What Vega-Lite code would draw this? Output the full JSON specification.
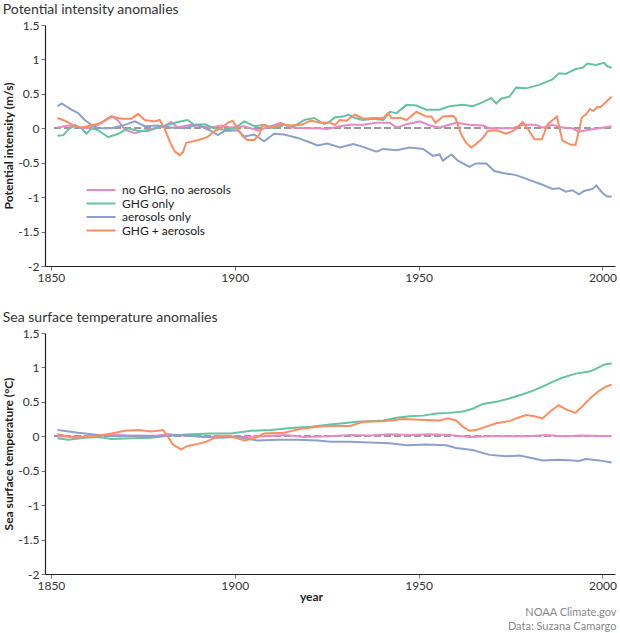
{
  "$schema": "https://vega.github.io/schema/vega-lite/v6.json",
  "padding": {"left": 2, "top": 3, "right": 2, "bottom": 0},
  "config": {
    "font": "Lato",
    "view": {"stroke": null},
    "axis": {"domainColor": "#222", "domainWidth": 1.2, "tickColor": "#777", "tickSize": 4, "labelPadding": 2, "labelColor": "#333", "labelFontSize": 12, "titleFontSize": 12, "titleColor": "#222", "grid": false, "labelOverlap": false},
    "title": {"fontSize": 14, "fontWeight": "normal", "color": "#333", "anchor": "start", "offset": 2},
    "concat": {"spacing": 28},
    "legend": {"padding": 0}
  },
  "title": {"text": ["NOAA Climate.gov", "Data: Suzana Camargo"], "orient": "bottom", "anchor": "end", "fontSize": 11, "color": "#888", "fontWeight": "normal", "lineHeight": 14, "offset": 5},
  "datasets": {
    "pi": [
      {"series": "no GHG, no aerosols", "year": 1851.8, "value": 0.01},
      {"series": "no GHG, no aerosols", "year": 1854.7, "value": 0.04},
      {"series": "no GHG, no aerosols", "year": 1857.4, "value": 0.01},
      {"series": "no GHG, no aerosols", "year": 1860.1, "value": 0.0},
      {"series": "no GHG, no aerosols", "year": 1862.9, "value": 0.05},
      {"series": "no GHG, no aerosols", "year": 1864.7, "value": 0.12},
      {"series": "no GHG, no aerosols", "year": 1866.5, "value": 0.18},
      {"series": "no GHG, no aerosols", "year": 1868.3, "value": 0.11},
      {"series": "no GHG, no aerosols", "year": 1870.1, "value": -0.02},
      {"series": "no GHG, no aerosols", "year": 1872.8, "value": -0.07},
      {"series": "no GHG, no aerosols", "year": 1875.5, "value": -0.03},
      {"series": "no GHG, no aerosols", "year": 1878.2, "value": 0.0},
      {"series": "no GHG, no aerosols", "year": 1880.9, "value": 0.03},
      {"series": "no GHG, no aerosols", "year": 1882.7, "value": 0.09},
      {"series": "no GHG, no aerosols", "year": 1884.5, "value": 0.01},
      {"series": "no GHG, no aerosols", "year": 1888.1, "value": 0.05},
      {"series": "no GHG, no aerosols", "year": 1890.9, "value": 0.03},
      {"series": "no GHG, no aerosols", "year": 1893.6, "value": 0.01},
      {"series": "no GHG, no aerosols", "year": 1896.3, "value": 0.04},
      {"series": "no GHG, no aerosols", "year": 1899.0, "value": 0.01},
      {"series": "no GHG, no aerosols", "year": 1902.6, "value": 0.03},
      {"series": "no GHG, no aerosols", "year": 1906.2, "value": -0.03},
      {"series": "no GHG, no aerosols", "year": 1909.8, "value": 0.03},
      {"series": "no GHG, no aerosols", "year": 1912.5, "value": 0.08},
      {"series": "no GHG, no aerosols", "year": 1915.2, "value": 0.01},
      {"series": "no GHG, no aerosols", "year": 1918.9, "value": 0.0},
      {"series": "no GHG, no aerosols", "year": 1922.5, "value": 0.0},
      {"series": "no GHG, no aerosols", "year": 1925.2, "value": -0.01},
      {"series": "no GHG, no aerosols", "year": 1928.6, "value": 0.03},
      {"series": "no GHG, no aerosols", "year": 1931.3, "value": 0.05},
      {"series": "no GHG, no aerosols", "year": 1934.9, "value": 0.05},
      {"series": "no GHG, no aerosols", "year": 1938.5, "value": 0.08},
      {"series": "no GHG, no aerosols", "year": 1942.2, "value": 0.08},
      {"series": "no GHG, no aerosols", "year": 1944.0, "value": 0.01},
      {"series": "no GHG, no aerosols", "year": 1946.7, "value": 0.06},
      {"series": "no GHG, no aerosols", "year": 1950.3, "value": 0.1},
      {"series": "no GHG, no aerosols", "year": 1953.0, "value": 0.04},
      {"series": "no GHG, no aerosols", "year": 1955.7, "value": 0.01},
      {"series": "no GHG, no aerosols", "year": 1957.5, "value": 0.04},
      {"series": "no GHG, no aerosols", "year": 1960.2, "value": 0.08},
      {"series": "no GHG, no aerosols", "year": 1963.8, "value": 0.05},
      {"series": "no GHG, no aerosols", "year": 1967.5, "value": 0.04},
      {"series": "no GHG, no aerosols", "year": 1969.3, "value": 0.0},
      {"series": "no GHG, no aerosols", "year": 1972.0, "value": 0.0},
      {"series": "no GHG, no aerosols", "year": 1975.6, "value": 0.0},
      {"series": "no GHG, no aerosols", "year": 1978.3, "value": 0.05},
      {"series": "no GHG, no aerosols", "year": 1981.9, "value": 0.05},
      {"series": "no GHG, no aerosols", "year": 1983.7, "value": 0.01},
      {"series": "no GHG, no aerosols", "year": 1986.4, "value": 0.05},
      {"series": "no GHG, no aerosols", "year": 1989.1, "value": 0.01},
      {"series": "no GHG, no aerosols", "year": 1991.8, "value": 0.0},
      {"series": "no GHG, no aerosols", "year": 1993.6, "value": -0.05},
      {"series": "no GHG, no aerosols", "year": 1996.4, "value": -0.02},
      {"series": "no GHG, no aerosols", "year": 1999.1, "value": 0.0},
      {"series": "no GHG, no aerosols", "year": 2002.5, "value": 0.03},

      {"series": "GHG only", "year": 1851.8, "value": -0.11},
      {"series": "GHG only", "year": 1853.4, "value": -0.1},
      {"series": "GHG only", "year": 1854.7, "value": -0.02},
      {"series": "GHG only", "year": 1856.5, "value": 0.05},
      {"series": "GHG only", "year": 1858.3, "value": 0.0},
      {"series": "GHG only", "year": 1859.7, "value": -0.08},
      {"series": "GHG only", "year": 1861.0, "value": 0.0},
      {"series": "GHG only", "year": 1862.9, "value": -0.03},
      {"series": "GHG only", "year": 1865.6, "value": -0.13},
      {"series": "GHG only", "year": 1868.3, "value": -0.08},
      {"series": "GHG only", "year": 1871.0, "value": 0.0},
      {"series": "GHG only", "year": 1873.7, "value": -0.04},
      {"series": "GHG only", "year": 1876.4, "value": -0.04},
      {"series": "GHG only", "year": 1879.1, "value": 0.01},
      {"series": "GHG only", "year": 1881.8, "value": 0.05},
      {"series": "GHG only", "year": 1884.5, "value": 0.09},
      {"series": "GHG only", "year": 1887.2, "value": 0.12},
      {"series": "GHG only", "year": 1889.0, "value": 0.05},
      {"series": "GHG only", "year": 1891.8, "value": 0.06},
      {"series": "GHG only", "year": 1894.5, "value": 0.0},
      {"series": "GHG only", "year": 1897.2, "value": -0.02},
      {"series": "GHG only", "year": 1899.9, "value": 0.0},
      {"series": "GHG only", "year": 1902.6, "value": 0.1},
      {"series": "GHG only", "year": 1905.3, "value": 0.03},
      {"series": "GHG only", "year": 1908.0, "value": 0.05},
      {"series": "GHG only", "year": 1910.7, "value": 0.0},
      {"series": "GHG only", "year": 1913.4, "value": 0.05},
      {"series": "GHG only", "year": 1916.2, "value": 0.03},
      {"series": "GHG only", "year": 1918.9, "value": 0.12},
      {"series": "GHG only", "year": 1921.6, "value": 0.15},
      {"series": "GHG only", "year": 1924.3, "value": 0.06},
      {"series": "GHG only", "year": 1925.9, "value": 0.1},
      {"series": "GHG only", "year": 1927.3, "value": 0.16},
      {"series": "GHG only", "year": 1929.5, "value": 0.17},
      {"series": "GHG only", "year": 1930.9, "value": 0.2},
      {"series": "GHG only", "year": 1932.7, "value": 0.15},
      {"series": "GHG only", "year": 1934.9, "value": 0.12},
      {"series": "GHG only", "year": 1937.6, "value": 0.14},
      {"series": "GHG only", "year": 1940.4, "value": 0.12},
      {"series": "GHG only", "year": 1942.2, "value": 0.24},
      {"series": "GHG only", "year": 1944.0, "value": 0.22},
      {"series": "GHG only", "year": 1946.7, "value": 0.34},
      {"series": "GHG only", "year": 1949.4, "value": 0.33},
      {"series": "GHG only", "year": 1952.1, "value": 0.27},
      {"series": "GHG only", "year": 1955.7, "value": 0.27},
      {"series": "GHG only", "year": 1958.4, "value": 0.32},
      {"series": "GHG only", "year": 1962.0, "value": 0.34},
      {"series": "GHG only", "year": 1964.7, "value": 0.32},
      {"series": "GHG only", "year": 1967.5, "value": 0.38},
      {"series": "GHG only", "year": 1969.7, "value": 0.44},
      {"series": "GHG only", "year": 1971.1, "value": 0.36},
      {"series": "GHG only", "year": 1972.4, "value": 0.43},
      {"series": "GHG only", "year": 1974.7, "value": 0.46},
      {"series": "GHG only", "year": 1976.5, "value": 0.59},
      {"series": "GHG only", "year": 1979.2, "value": 0.58},
      {"series": "GHG only", "year": 1982.8, "value": 0.63},
      {"series": "GHG only", "year": 1986.4, "value": 0.71},
      {"series": "GHG only", "year": 1988.2, "value": 0.8},
      {"series": "GHG only", "year": 1990.0, "value": 0.79},
      {"series": "GHG only", "year": 1992.7, "value": 0.86},
      {"series": "GHG only", "year": 1994.6, "value": 0.88},
      {"series": "GHG only", "year": 1995.9, "value": 0.94},
      {"series": "GHG only", "year": 1998.2, "value": 0.92},
      {"series": "GHG only", "year": 2000.4, "value": 0.95},
      {"series": "GHG only", "year": 2001.3, "value": 0.9},
      {"series": "GHG only", "year": 2002.5, "value": 0.88},

      {"series": "aerosols only", "year": 1851.8, "value": 0.32},
      {"series": "aerosols only", "year": 1852.9, "value": 0.36},
      {"series": "aerosols only", "year": 1855.6, "value": 0.27},
      {"series": "aerosols only", "year": 1857.4, "value": 0.22},
      {"series": "aerosols only", "year": 1859.2, "value": 0.12},
      {"series": "aerosols only", "year": 1861.0, "value": 0.05},
      {"series": "aerosols only", "year": 1862.9, "value": 0.0},
      {"series": "aerosols only", "year": 1866.5, "value": 0.0},
      {"series": "aerosols only", "year": 1870.1, "value": 0.05},
      {"series": "aerosols only", "year": 1872.8, "value": 0.1},
      {"series": "aerosols only", "year": 1875.5, "value": 0.03},
      {"series": "aerosols only", "year": 1879.1, "value": 0.04},
      {"series": "aerosols only", "year": 1882.7, "value": 0.01},
      {"series": "aerosols only", "year": 1886.3, "value": 0.0},
      {"series": "aerosols only", "year": 1890.0, "value": 0.05},
      {"series": "aerosols only", "year": 1893.6, "value": -0.04},
      {"series": "aerosols only", "year": 1895.4, "value": -0.1},
      {"series": "aerosols only", "year": 1897.2, "value": -0.04},
      {"series": "aerosols only", "year": 1900.8, "value": -0.03},
      {"series": "aerosols only", "year": 1902.6, "value": -0.12},
      {"series": "aerosols only", "year": 1905.3, "value": -0.09},
      {"series": "aerosols only", "year": 1908.0, "value": -0.19},
      {"series": "aerosols only", "year": 1910.7, "value": -0.08},
      {"series": "aerosols only", "year": 1913.4, "value": -0.09},
      {"series": "aerosols only", "year": 1917.1, "value": -0.14},
      {"series": "aerosols only", "year": 1920.7, "value": -0.21},
      {"series": "aerosols only", "year": 1922.5, "value": -0.25},
      {"series": "aerosols only", "year": 1925.2, "value": -0.22},
      {"series": "aerosols only", "year": 1928.6, "value": -0.28},
      {"series": "aerosols only", "year": 1932.2, "value": -0.23},
      {"series": "aerosols only", "year": 1934.9, "value": -0.27},
      {"series": "aerosols only", "year": 1938.5, "value": -0.34},
      {"series": "aerosols only", "year": 1940.4, "value": -0.3},
      {"series": "aerosols only", "year": 1944.0, "value": -0.32},
      {"series": "aerosols only", "year": 1947.6, "value": -0.28},
      {"series": "aerosols only", "year": 1951.2, "value": -0.3},
      {"series": "aerosols only", "year": 1953.9, "value": -0.4},
      {"series": "aerosols only", "year": 1955.7, "value": -0.38},
      {"series": "aerosols only", "year": 1956.6, "value": -0.47},
      {"series": "aerosols only", "year": 1958.9, "value": -0.38},
      {"series": "aerosols only", "year": 1960.7, "value": -0.47},
      {"series": "aerosols only", "year": 1963.8, "value": -0.56},
      {"series": "aerosols only", "year": 1965.6, "value": -0.51},
      {"series": "aerosols only", "year": 1968.4, "value": -0.51},
      {"series": "aerosols only", "year": 1970.6, "value": -0.62},
      {"series": "aerosols only", "year": 1972.9, "value": -0.65},
      {"series": "aerosols only", "year": 1976.5, "value": -0.68},
      {"series": "aerosols only", "year": 1980.1, "value": -0.75},
      {"series": "aerosols only", "year": 1983.7, "value": -0.82},
      {"series": "aerosols only", "year": 1986.4, "value": -0.88},
      {"series": "aerosols only", "year": 1988.2, "value": -0.87},
      {"series": "aerosols only", "year": 1990.0, "value": -0.92},
      {"series": "aerosols only", "year": 1991.8, "value": -0.9},
      {"series": "aerosols only", "year": 1993.6, "value": -0.96},
      {"series": "aerosols only", "year": 1995.0, "value": -0.91},
      {"series": "aerosols only", "year": 1997.3, "value": -0.88},
      {"series": "aerosols only", "year": 1998.3, "value": -0.83},
      {"series": "aerosols only", "year": 2000.0, "value": -0.94},
      {"series": "aerosols only", "year": 2001.3, "value": -0.99},
      {"series": "aerosols only", "year": 2002.5, "value": -0.99},

      {"series": "GHG + aerosols", "year": 1851.8, "value": 0.15},
      {"series": "GHG + aerosols", "year": 1853.8, "value": 0.11},
      {"series": "GHG + aerosols", "year": 1856.5, "value": 0.03},
      {"series": "GHG + aerosols", "year": 1858.3, "value": 0.01},
      {"series": "GHG + aerosols", "year": 1861.0, "value": 0.04},
      {"series": "GHG + aerosols", "year": 1863.8, "value": 0.08},
      {"series": "GHG + aerosols", "year": 1866.5, "value": 0.17},
      {"series": "GHG + aerosols", "year": 1869.2, "value": 0.14},
      {"series": "GHG + aerosols", "year": 1871.9, "value": 0.14},
      {"series": "GHG + aerosols", "year": 1873.7, "value": 0.21},
      {"series": "GHG + aerosols", "year": 1875.5, "value": 0.12},
      {"series": "GHG + aerosols", "year": 1878.2, "value": 0.1},
      {"series": "GHG + aerosols", "year": 1879.6, "value": 0.12},
      {"series": "GHG + aerosols", "year": 1880.9, "value": 0.0},
      {"series": "GHG + aerosols", "year": 1882.3, "value": -0.19},
      {"series": "GHG + aerosols", "year": 1883.6, "value": -0.33},
      {"series": "GHG + aerosols", "year": 1885.0, "value": -0.39},
      {"series": "GHG + aerosols", "year": 1885.9, "value": -0.35},
      {"series": "GHG + aerosols", "year": 1886.8, "value": -0.21},
      {"series": "GHG + aerosols", "year": 1888.6, "value": -0.19},
      {"series": "GHG + aerosols", "year": 1890.9, "value": -0.16},
      {"series": "GHG + aerosols", "year": 1892.7, "value": -0.12},
      {"series": "GHG + aerosols", "year": 1894.5, "value": -0.04},
      {"series": "GHG + aerosols", "year": 1896.3, "value": 0.0},
      {"series": "GHG + aerosols", "year": 1898.1, "value": 0.08},
      {"series": "GHG + aerosols", "year": 1899.4, "value": 0.11},
      {"series": "GHG + aerosols", "year": 1900.8, "value": 0.0},
      {"series": "GHG + aerosols", "year": 1902.2, "value": -0.12},
      {"series": "GHG + aerosols", "year": 1903.5, "value": -0.17},
      {"series": "GHG + aerosols", "year": 1905.3, "value": -0.17},
      {"series": "GHG + aerosols", "year": 1906.7, "value": -0.09},
      {"series": "GHG + aerosols", "year": 1907.6, "value": 0.05},
      {"series": "GHG + aerosols", "year": 1909.8, "value": 0.01},
      {"series": "GHG + aerosols", "year": 1912.5, "value": 0.06},
      {"series": "GHG + aerosols", "year": 1915.2, "value": 0.04},
      {"series": "GHG + aerosols", "year": 1918.0, "value": 0.05},
      {"series": "GHG + aerosols", "year": 1920.7, "value": 0.11},
      {"series": "GHG + aerosols", "year": 1923.4, "value": 0.08},
      {"series": "GHG + aerosols", "year": 1925.9, "value": 0.08},
      {"series": "GHG + aerosols", "year": 1927.3, "value": 0.05},
      {"series": "GHG + aerosols", "year": 1928.6, "value": 0.12},
      {"series": "GHG + aerosols", "year": 1930.4, "value": 0.11},
      {"series": "GHG + aerosols", "year": 1932.7, "value": 0.2},
      {"series": "GHG + aerosols", "year": 1934.9, "value": 0.14},
      {"series": "GHG + aerosols", "year": 1937.6, "value": 0.15},
      {"series": "GHG + aerosols", "year": 1940.4, "value": 0.15},
      {"series": "GHG + aerosols", "year": 1941.7, "value": 0.22},
      {"series": "GHG + aerosols", "year": 1942.6, "value": 0.15},
      {"series": "GHG + aerosols", "year": 1945.3, "value": 0.15},
      {"series": "GHG + aerosols", "year": 1946.7, "value": 0.12},
      {"series": "GHG + aerosols", "year": 1949.4, "value": 0.24},
      {"series": "GHG + aerosols", "year": 1952.1, "value": 0.17},
      {"series": "GHG + aerosols", "year": 1953.5, "value": 0.17},
      {"series": "GHG + aerosols", "year": 1954.6, "value": 0.08},
      {"series": "GHG + aerosols", "year": 1956.6, "value": 0.17},
      {"series": "GHG + aerosols", "year": 1959.3, "value": 0.18},
      {"series": "GHG + aerosols", "year": 1960.0, "value": 0.15},
      {"series": "GHG + aerosols", "year": 1961.6, "value": -0.09},
      {"series": "GHG + aerosols", "year": 1962.9, "value": -0.21},
      {"series": "GHG + aerosols", "year": 1964.3, "value": -0.28},
      {"series": "GHG + aerosols", "year": 1965.6, "value": -0.23},
      {"series": "GHG + aerosols", "year": 1967.5, "value": -0.14},
      {"series": "GHG + aerosols", "year": 1968.8, "value": -0.04},
      {"series": "GHG + aerosols", "year": 1971.1, "value": -0.03},
      {"series": "GHG + aerosols", "year": 1973.8, "value": -0.08},
      {"series": "GHG + aerosols", "year": 1976.0, "value": -0.03},
      {"series": "GHG + aerosols", "year": 1978.3, "value": 0.09},
      {"series": "GHG + aerosols", "year": 1979.6, "value": 0.0},
      {"series": "GHG + aerosols", "year": 1981.5, "value": -0.16},
      {"series": "GHG + aerosols", "year": 1983.5, "value": -0.16},
      {"series": "GHG + aerosols", "year": 1985.1, "value": 0.06},
      {"series": "GHG + aerosols", "year": 1987.6, "value": 0.17},
      {"series": "GHG + aerosols", "year": 1989.1, "value": -0.18},
      {"series": "GHG + aerosols", "year": 1991.4, "value": -0.24},
      {"series": "GHG + aerosols", "year": 1992.7, "value": -0.24},
      {"series": "GHG + aerosols", "year": 1994.4, "value": 0.16},
      {"series": "GHG + aerosols", "year": 1995.5, "value": 0.2},
      {"series": "GHG + aerosols", "year": 1996.6, "value": 0.28},
      {"series": "GHG + aerosols", "year": 1997.5, "value": 0.25},
      {"series": "GHG + aerosols", "year": 1998.6, "value": 0.31},
      {"series": "GHG + aerosols", "year": 1999.5, "value": 0.31},
      {"series": "GHG + aerosols", "year": 2001.3, "value": 0.4},
      {"series": "GHG + aerosols", "year": 2002.5, "value": 0.46}
    ],
    "sst": [
      {"series": "no GHG, no aerosols", "year": 1851.8, "value": 0.0},
      {"series": "no GHG, no aerosols", "year": 1857.4, "value": -0.01},
      {"series": "no GHG, no aerosols", "year": 1862.9, "value": 0.01},
      {"series": "no GHG, no aerosols", "year": 1868.3, "value": 0.02},
      {"series": "no GHG, no aerosols", "year": 1873.7, "value": 0.0},
      {"series": "no GHG, no aerosols", "year": 1879.1, "value": 0.01},
      {"series": "no GHG, no aerosols", "year": 1881.8, "value": 0.03},
      {"series": "no GHG, no aerosols", "year": 1886.3, "value": 0.01},
      {"series": "no GHG, no aerosols", "year": 1891.8, "value": -0.01},
      {"series": "no GHG, no aerosols", "year": 1897.2, "value": 0.0},
      {"series": "no GHG, no aerosols", "year": 1902.6, "value": -0.01},
      {"series": "no GHG, no aerosols", "year": 1908.0, "value": 0.0},
      {"series": "no GHG, no aerosols", "year": 1913.4, "value": 0.02},
      {"series": "no GHG, no aerosols", "year": 1918.9, "value": -0.01},
      {"series": "no GHG, no aerosols", "year": 1925.9, "value": 0.0},
      {"series": "no GHG, no aerosols", "year": 1931.3, "value": 0.02},
      {"series": "no GHG, no aerosols", "year": 1936.7, "value": 0.01},
      {"series": "no GHG, no aerosols", "year": 1942.2, "value": 0.03},
      {"series": "no GHG, no aerosols", "year": 1947.6, "value": 0.02},
      {"series": "no GHG, no aerosols", "year": 1953.0, "value": 0.03},
      {"series": "no GHG, no aerosols", "year": 1958.4, "value": 0.02},
      {"series": "no GHG, no aerosols", "year": 1963.8, "value": -0.01},
      {"series": "no GHG, no aerosols", "year": 1969.3, "value": 0.0},
      {"series": "no GHG, no aerosols", "year": 1974.7, "value": 0.0},
      {"series": "no GHG, no aerosols", "year": 1980.1, "value": 0.0},
      {"series": "no GHG, no aerosols", "year": 1984.6, "value": 0.02},
      {"series": "no GHG, no aerosols", "year": 1989.1, "value": 0.0},
      {"series": "no GHG, no aerosols", "year": 1994.6, "value": 0.01},
      {"series": "no GHG, no aerosols", "year": 2002.5, "value": 0.0},

      {"series": "GHG only", "year": 1851.8, "value": -0.03},
      {"series": "GHG only", "year": 1854.7, "value": -0.05},
      {"series": "GHG only", "year": 1859.2, "value": -0.02},
      {"series": "GHG only", "year": 1862.9, "value": -0.01},
      {"series": "GHG only", "year": 1866.5, "value": -0.04},
      {"series": "GHG only", "year": 1871.9, "value": -0.03},
      {"series": "GHG only", "year": 1877.3, "value": -0.02},
      {"series": "GHG only", "year": 1882.7, "value": 0.01},
      {"series": "GHG only", "year": 1888.1, "value": 0.03},
      {"series": "GHG only", "year": 1893.6, "value": 0.04},
      {"series": "GHG only", "year": 1899.0, "value": 0.04},
      {"series": "GHG only", "year": 1904.4, "value": 0.08},
      {"series": "GHG only", "year": 1909.8, "value": 0.09},
      {"series": "GHG only", "year": 1915.2, "value": 0.12},
      {"series": "GHG only", "year": 1920.7, "value": 0.14},
      {"series": "GHG only", "year": 1925.9, "value": 0.17},
      {"series": "GHG only", "year": 1929.5, "value": 0.19},
      {"series": "GHG only", "year": 1933.1, "value": 0.21},
      {"series": "GHG only", "year": 1936.7, "value": 0.22},
      {"series": "GHG only", "year": 1940.4, "value": 0.23},
      {"series": "GHG only", "year": 1944.0, "value": 0.27},
      {"series": "GHG only", "year": 1947.6, "value": 0.29},
      {"series": "GHG only", "year": 1951.2, "value": 0.3},
      {"series": "GHG only", "year": 1954.8, "value": 0.33},
      {"series": "GHG only", "year": 1958.4, "value": 0.34},
      {"series": "GHG only", "year": 1962.0, "value": 0.36},
      {"series": "GHG only", "year": 1964.7, "value": 0.4},
      {"series": "GHG only", "year": 1967.5, "value": 0.47},
      {"series": "GHG only", "year": 1971.1, "value": 0.5},
      {"series": "GHG only", "year": 1974.7, "value": 0.55},
      {"series": "GHG only", "year": 1978.3, "value": 0.61},
      {"series": "GHG only", "year": 1981.0, "value": 0.66},
      {"series": "GHG only", "year": 1983.7, "value": 0.72},
      {"series": "GHG only", "year": 1986.4, "value": 0.79},
      {"series": "GHG only", "year": 1989.1, "value": 0.85},
      {"series": "GHG only", "year": 1992.7, "value": 0.91},
      {"series": "GHG only", "year": 1996.4, "value": 0.94},
      {"series": "GHG only", "year": 1998.2, "value": 0.98},
      {"series": "GHG only", "year": 2000.4, "value": 1.04},
      {"series": "GHG only", "year": 2002.5, "value": 1.06},

      {"series": "aerosols only", "year": 1851.8, "value": 0.09},
      {"series": "aerosols only", "year": 1857.4, "value": 0.05},
      {"series": "aerosols only", "year": 1862.9, "value": 0.02},
      {"series": "aerosols only", "year": 1868.3, "value": 0.0},
      {"series": "aerosols only", "year": 1873.7, "value": 0.01},
      {"series": "aerosols only", "year": 1879.1, "value": 0.0},
      {"series": "aerosols only", "year": 1884.5, "value": 0.02},
      {"series": "aerosols only", "year": 1890.0, "value": 0.0},
      {"series": "aerosols only", "year": 1895.4, "value": -0.02},
      {"series": "aerosols only", "year": 1900.8, "value": -0.01},
      {"series": "aerosols only", "year": 1906.2, "value": -0.06},
      {"series": "aerosols only", "year": 1911.6, "value": -0.05},
      {"series": "aerosols only", "year": 1917.1, "value": -0.05},
      {"series": "aerosols only", "year": 1922.5, "value": -0.06},
      {"series": "aerosols only", "year": 1925.9, "value": -0.08},
      {"series": "aerosols only", "year": 1931.3, "value": -0.08},
      {"series": "aerosols only", "year": 1936.7, "value": -0.09},
      {"series": "aerosols only", "year": 1942.2, "value": -0.1},
      {"series": "aerosols only", "year": 1946.7, "value": -0.13},
      {"series": "aerosols only", "year": 1952.1, "value": -0.12},
      {"series": "aerosols only", "year": 1957.5, "value": -0.13},
      {"series": "aerosols only", "year": 1960.2, "value": -0.17},
      {"series": "aerosols only", "year": 1964.7, "value": -0.2},
      {"series": "aerosols only", "year": 1969.3, "value": -0.27},
      {"series": "aerosols only", "year": 1973.8, "value": -0.29},
      {"series": "aerosols only", "year": 1977.4, "value": -0.28},
      {"series": "aerosols only", "year": 1981.0, "value": -0.32},
      {"series": "aerosols only", "year": 1983.7, "value": -0.35},
      {"series": "aerosols only", "year": 1988.2, "value": -0.34},
      {"series": "aerosols only", "year": 1991.8, "value": -0.35},
      {"series": "aerosols only", "year": 1993.6, "value": -0.36},
      {"series": "aerosols only", "year": 1995.5, "value": -0.33},
      {"series": "aerosols only", "year": 1999.1, "value": -0.35},
      {"series": "aerosols only", "year": 2002.5, "value": -0.38},

      {"series": "GHG + aerosols", "year": 1851.8, "value": 0.03},
      {"series": "GHG + aerosols", "year": 1856.5, "value": -0.02},
      {"series": "GHG + aerosols", "year": 1861.9, "value": 0.0},
      {"series": "GHG + aerosols", "year": 1866.5, "value": 0.04},
      {"series": "GHG + aerosols", "year": 1870.1, "value": 0.08},
      {"series": "GHG + aerosols", "year": 1873.7, "value": 0.09},
      {"series": "GHG + aerosols", "year": 1877.3, "value": 0.07},
      {"series": "GHG + aerosols", "year": 1880.5, "value": 0.09},
      {"series": "GHG + aerosols", "year": 1881.4, "value": 0.03},
      {"series": "GHG + aerosols", "year": 1883.2, "value": -0.12},
      {"series": "GHG + aerosols", "year": 1885.4, "value": -0.19},
      {"series": "GHG + aerosols", "year": 1887.2, "value": -0.14},
      {"series": "GHG + aerosols", "year": 1890.0, "value": -0.11},
      {"series": "GHG + aerosols", "year": 1892.2, "value": -0.08},
      {"series": "GHG + aerosols", "year": 1895.4, "value": 0.0},
      {"series": "GHG + aerosols", "year": 1899.0, "value": 0.0},
      {"series": "GHG + aerosols", "year": 1902.6, "value": -0.06},
      {"series": "GHG + aerosols", "year": 1905.3, "value": -0.03},
      {"series": "GHG + aerosols", "year": 1908.0, "value": 0.04},
      {"series": "GHG + aerosols", "year": 1913.4, "value": 0.05},
      {"series": "GHG + aerosols", "year": 1918.0, "value": 0.11},
      {"series": "GHG + aerosols", "year": 1922.5, "value": 0.14},
      {"series": "GHG + aerosols", "year": 1925.9, "value": 0.15},
      {"series": "GHG + aerosols", "year": 1931.3, "value": 0.15},
      {"series": "GHG + aerosols", "year": 1934.9, "value": 0.21},
      {"series": "GHG + aerosols", "year": 1940.4, "value": 0.22},
      {"series": "GHG + aerosols", "year": 1945.8, "value": 0.25},
      {"series": "GHG + aerosols", "year": 1950.3, "value": 0.24},
      {"series": "GHG + aerosols", "year": 1955.7, "value": 0.23},
      {"series": "GHG + aerosols", "year": 1958.0, "value": 0.26},
      {"series": "GHG + aerosols", "year": 1960.2, "value": 0.23},
      {"series": "GHG + aerosols", "year": 1962.0, "value": 0.14},
      {"series": "GHG + aerosols", "year": 1963.8, "value": 0.08},
      {"series": "GHG + aerosols", "year": 1965.6, "value": 0.09},
      {"series": "GHG + aerosols", "year": 1968.4, "value": 0.14},
      {"series": "GHG + aerosols", "year": 1971.1, "value": 0.19},
      {"series": "GHG + aerosols", "year": 1974.7, "value": 0.22},
      {"series": "GHG + aerosols", "year": 1977.0, "value": 0.27},
      {"series": "GHG + aerosols", "year": 1979.2, "value": 0.31},
      {"series": "GHG + aerosols", "year": 1981.5, "value": 0.29},
      {"series": "GHG + aerosols", "year": 1983.7, "value": 0.26},
      {"series": "GHG + aerosols", "year": 1986.0, "value": 0.37},
      {"series": "GHG + aerosols", "year": 1988.1, "value": 0.45},
      {"series": "GHG + aerosols", "year": 1990.0, "value": 0.39},
      {"series": "GHG + aerosols", "year": 1992.6, "value": 0.34},
      {"series": "GHG + aerosols", "year": 1994.6, "value": 0.44},
      {"series": "GHG + aerosols", "year": 1996.8, "value": 0.56},
      {"series": "GHG + aerosols", "year": 1999.1, "value": 0.66},
      {"series": "GHG + aerosols", "year": 2000.9, "value": 0.72},
      {"series": "GHG + aerosols", "year": 2002.5, "value": 0.75}
    ]
  },
  "vconcat": [
    {
      "title": {"text": "Potential intensity anomalies", "anchor": "start", "frame": "bounds"},
      "width": 570,
      "height": 241,
      "data": {"name": "pi"},
      "encoding": {
        "x": {"field": "year", "type": "quantitative", "scale": {"domain": [1848.4, 2003.4], "nice": false, "zero": false},
              "axis": {"title": null, "values": [1850, 1900, 1950, 2000], "format": "d"}},
        "y": {"field": "value", "type": "quantitative", "scale": {"domain": [-2, 1.5], "nice": false},
              "axis": {"title": "Potential intensity (m/s)", "values": [-2, -1.5, -1, -0.5, 0, 0.5, 1, 1.5], "labelExpr": "datum.value + ''", "labelOverlap": false, "titlePadding": 2}}
      },
      "layer": [
        {
          "mark": {"type": "rule", "color": "#999", "strokeDash": [6, 4], "strokeWidth": 1.5},
          "encoding": {
            "y": {"datum": 0, "type": "quantitative", "scale": {"domain": [-2, 1.5], "nice": false},
                  "axis": {"title": "Potential intensity (m/s)", "values": [-2, -1.5, -1, -0.5, 0, 0.5, 1, 1.5], "labelExpr": "datum.value + ''", "labelOverlap": false, "titlePadding": 2}},
            "x": {"datum": 1851, "type": "quantitative", "scale": {"domain": [1848.4, 2003.4], "nice": false, "zero": false},
                  "axis": {"title": null, "values": [1850, 1900, 1950, 2000], "format": "d"}},
            "x2": {"datum": 2003}
          }
        },
        {
          "mark": {"type": "line", "strokeWidth": 2},
          "encoding": {
            "color": {"field": "series", "type": "nominal",
                      "scale": {"domain": ["no GHG, no aerosols", "GHG only", "aerosols only", "GHG + aerosols"], "range": ["#e78ac3", "#66c2a5", "#8da0cb", "#fc8d62"]},
                      "legend": {"title": null, "orient": "none", "legendX": 50, "legendY": 159, "symbolType": "M-3.4,0H3.4", "symbolSize": 73, "symbolStrokeWidth": 2, "labelFontSize": 12, "labelColor": "#222", "labelOffset": 15, "rowPadding": 1.5}}
          }
        }
      ]
    },
    {
      "title": {"text": "Sea surface temperature anomalies", "anchor": "start", "frame": "bounds"},
      "width": 570,
      "height": 241,
      "data": {"name": "sst"},
      "encoding": {
        "x": {"field": "year", "type": "quantitative", "scale": {"domain": [1848.4, 2003.4], "nice": false, "zero": false},
              "axis": {"title": "year", "values": [1850, 1900, 1950, 2000], "format": "d", "titleX": 266, "titlePadding": 0}},
        "y": {"field": "value", "type": "quantitative", "scale": {"domain": [-2, 1.5], "nice": false},
              "axis": {"title": "Sea surface temperature (°C)", "values": [-2, -1.5, -1, -0.5, 0, 0.5, 1, 1.5], "labelExpr": "datum.value + ''", "labelOverlap": false, "titlePadding": 2}}
      },
      "layer": [
        {
          "mark": {"type": "rule", "color": "#999", "strokeDash": [6, 4], "strokeWidth": 1.5},
          "encoding": {
            "y": {"datum": 0, "type": "quantitative", "scale": {"domain": [-2, 1.5], "nice": false},
                  "axis": {"title": "Sea surface temperature (°C)", "values": [-2, -1.5, -1, -0.5, 0, 0.5, 1, 1.5], "labelExpr": "datum.value + ''", "labelOverlap": false, "titlePadding": 2}},
            "x": {"datum": 1851, "type": "quantitative", "scale": {"domain": [1848.4, 2003.4], "nice": false, "zero": false},
                  "axis": {"title": "year", "values": [1850, 1900, 1950, 2000], "format": "d", "titleX": 266, "titlePadding": 0}},
            "x2": {"datum": 2003}
          }
        },
        {
          "mark": {"type": "line", "strokeWidth": 2},
          "encoding": {
            "color": {"field": "series", "type": "nominal",
                      "scale": {"domain": ["no GHG, no aerosols", "GHG only", "aerosols only", "GHG + aerosols"], "range": ["#e78ac3", "#66c2a5", "#8da0cb", "#fc8d62"]},
                      "legend": {"title": null, "orient": "none", "legendX": 50, "legendY": 159, "symbolType": "M-3.4,0H3.4", "symbolSize": 73, "symbolStrokeWidth": 2, "labelFontSize": 12, "labelColor": "#222", "labelOffset": 15, "rowPadding": 1.5}}
          }
        }
      ]
    }
  ]
}
